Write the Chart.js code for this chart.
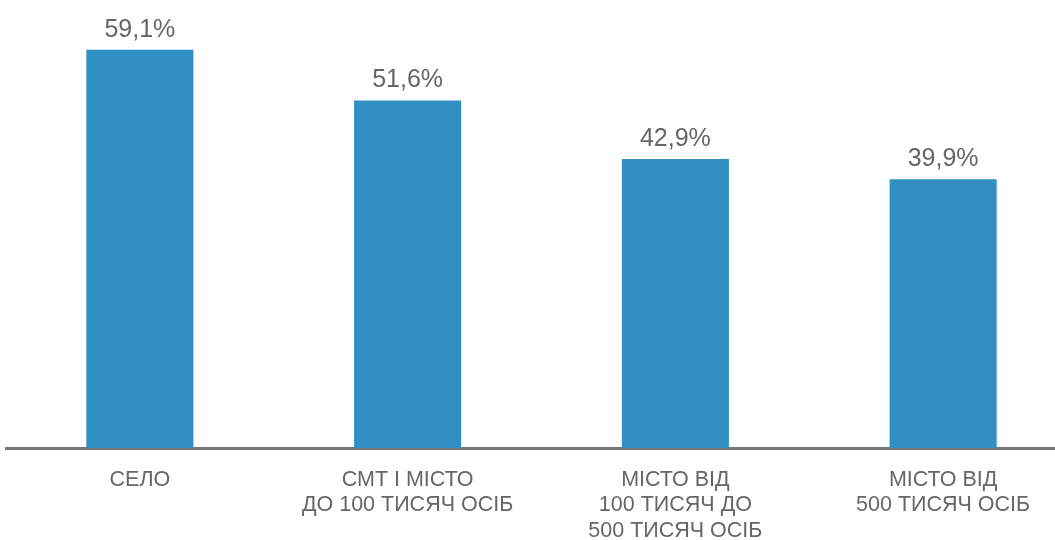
<!DOCTYPE html>
<html>
<head>
<meta charset="utf-8">
<script src="https://cdn.jsdelivr.net/npm/chart.js@4/dist/chart.umd.min.js"></script>
<style>
  html, body { margin: 0; padding: 0; background: #fff; overflow: hidden; }
  #wrap { position: relative; width: 1077px; height: 540px; }
</style>
</head>
<body>
<div id="wrap"><canvas id="myChart"></canvas></div>
<script>
const categories = [
  ["СЕЛО"],
  ["СМТ І МІСТО", "ДО 100 ТИСЯЧ ОСІБ"],
  ["МІСТО ВІД", "100 ТИСЯЧ ДО", "500 ТИСЯЧ ОСІБ"],
  ["МІСТО ВІД", "500 ТИСЯЧ ОСІБ"],
];
const values = [59.1, 51.6, 42.9, 39.9];

const valueLabels = {
  id: "valueLabels",
  afterDatasetsDraw(chart) {
    const ctx = chart.ctx;
    const meta = chart.getDatasetMeta(0);
    ctx.save();
    ctx.font = "25px 'Liberation Sans', Arial, sans-serif";
    ctx.fillStyle = "#666666";
    ctx.textAlign = "center";
    ctx.textBaseline = "alphabetic";
    meta.data.forEach((bar, i) => {
      const text = values[i].toFixed(1).replace(".", ",") + "%";
      ctx.fillText(text, bar.x, bar.y - 13);
    });
    ctx.restore();
  },
};

new Chart(document.getElementById("myChart").getContext("2d"), {
  type: "bar",
  data: {
    labels: categories,
    datasets: [
      {
        data: values,
        backgroundColor: "#318FC4",
        categoryPercentage: 1,
        barPercentage: 0.4,
      },
    ],
  },
  options: {
    responsive: true,
    maintainAspectRatio: false,
    animation: false,
    layout: {
      padding: { left: 6, right: 0, top: 0, bottom: 0 },
    },
    plugins: {
      legend: { display: false },
      tooltip: { enabled: false },
    },
    scales: {
      x: {
        grid: { display: false, drawTicks: false },
        border: { display: true, color: "#767676", width: 3 },
        ticks: {
          color: "#666666",
          font: { family: "'Liberation Sans', Arial, sans-serif", size: 21.5, lineHeight: 1.19 },
          padding: 19,
          maxRotation: 0,
          autoSkip: false,
        },
        afterFit(scale) {
          scale.height = 92;
        },
      },
      y: {
        display: false,
        min: 0,
        max: 66.5,
      },
    },
  },
  plugins: [valueLabels],
});
</script>
</body>
</html>
